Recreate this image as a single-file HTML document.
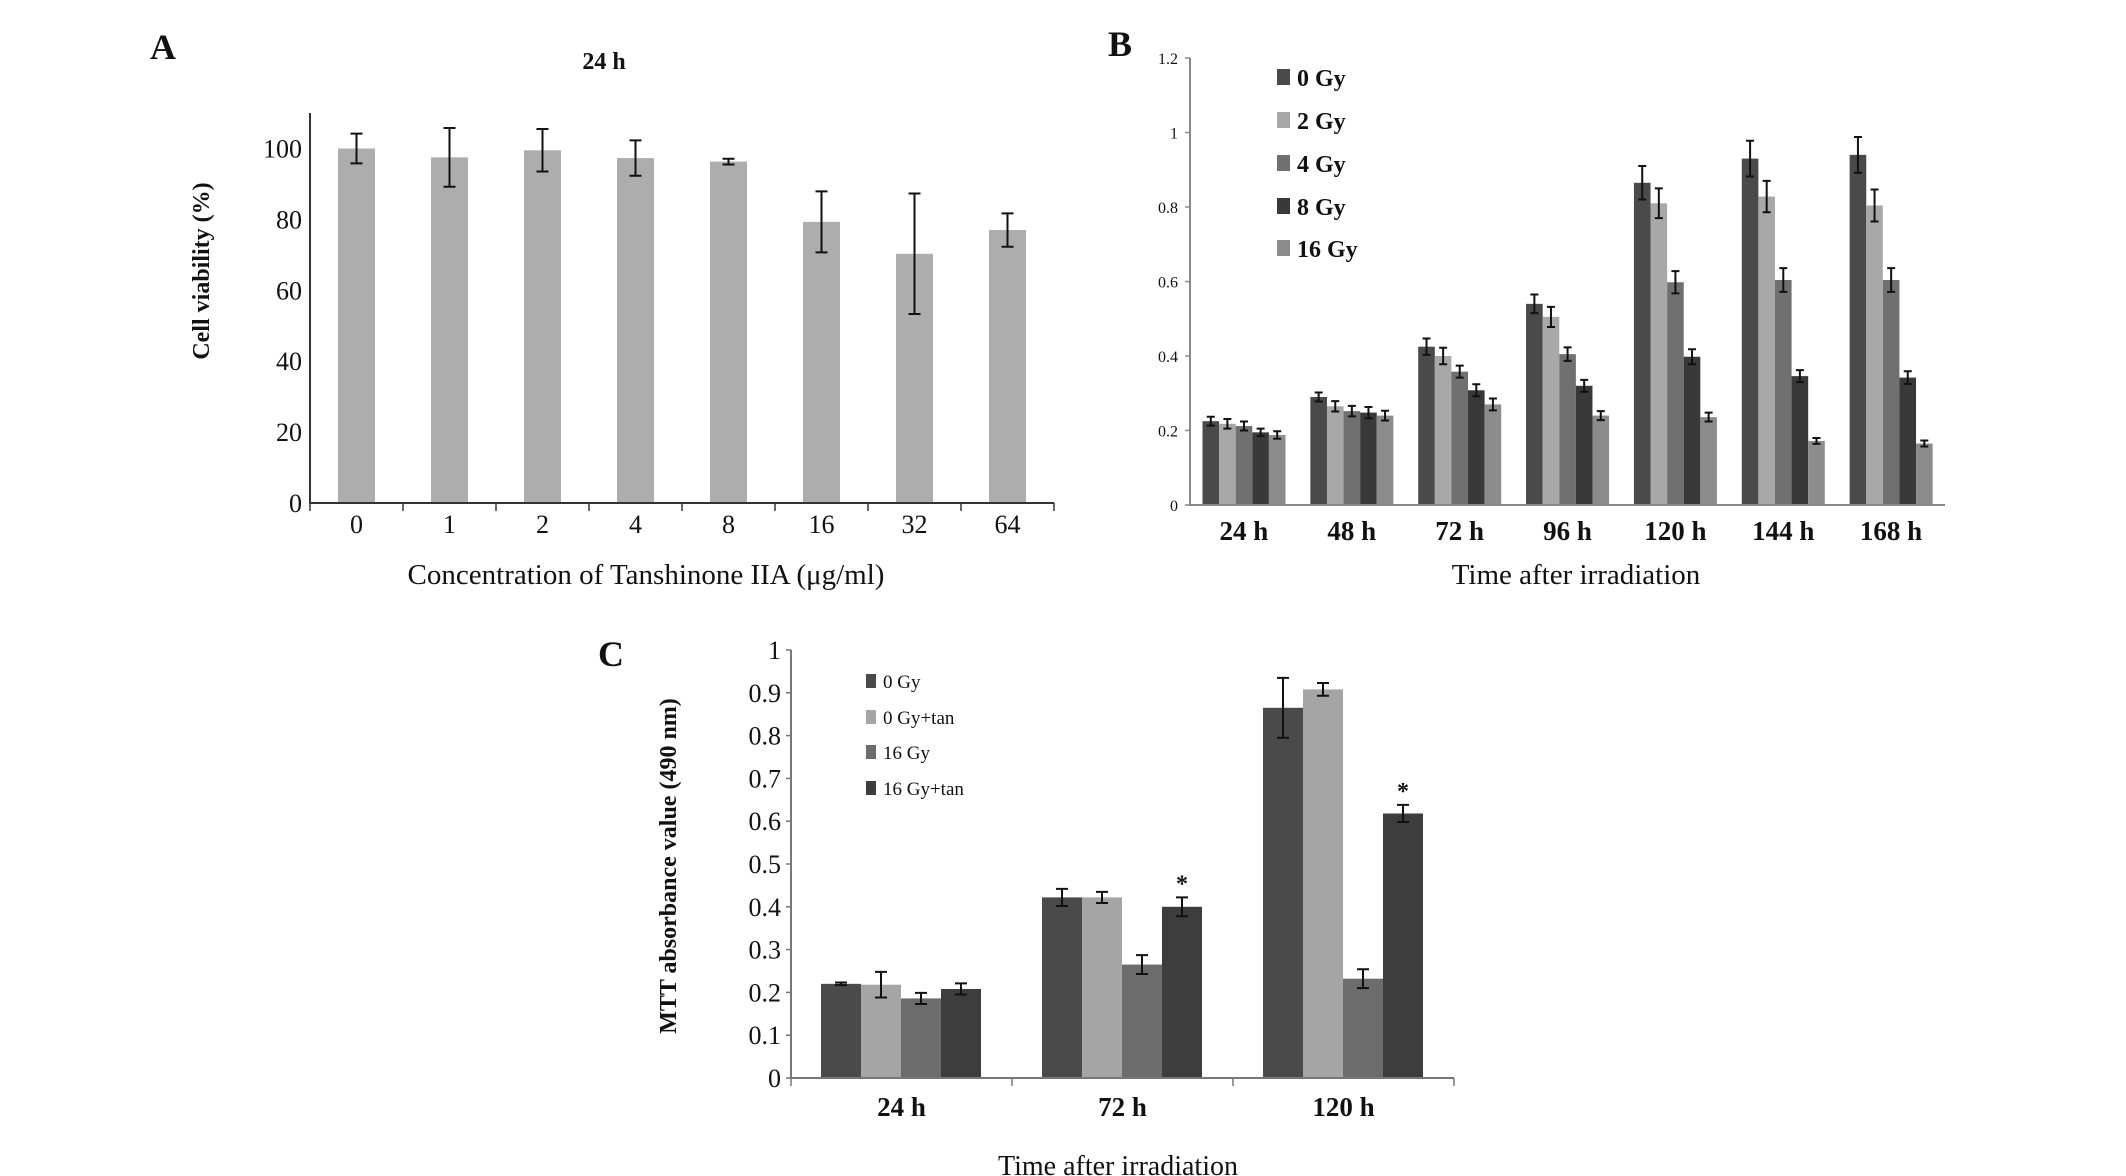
<!DOCTYPE html>
<html><head><meta charset="utf-8"><style>
html,body{margin:0;padding:0;background:#fff;overflow:hidden;}
svg{display:block;}
text{font-family:"Liberation Serif",serif;fill:#111;}
</style></head><body>
<svg id="fig" width="2126" height="1176" viewBox="0 0 2126 1176" xmlns="http://www.w3.org/2000/svg"></svg>
<script>
// Panel A data
const aCats=["0","1","2","4","8","16","32","64"];
const aVals=[100,97.5,99.5,97.3,96.3,79.3,70.3,77];
const aErr=[4.2,8.3,6,5,0.8,8.6,17,4.7];
const aTicks=[0,20,40,60,80,100];
// Panel B data
const bCats=["24 h","48 h","72 h","96 h","120 h","144 h","168 h"];
const bSeries=["0 Gy","2 Gy","4 Gy","8 Gy","16 Gy"];
const b0=[0.225,0.29,0.425,0.54,0.865,0.93,0.94];
const b2=[0.218,0.265,0.4,0.505,0.81,0.828,0.804];
const b4=[0.212,0.252,0.358,0.405,0.598,0.604,0.604];
const b8=[0.195,0.248,0.308,0.32,0.398,0.346,0.342];
const b16=[0.188,0.24,0.27,0.24,0.236,0.172,0.165];
const bE0=[0.012,0.012,0.022,0.025,0.045,0.048,0.048];
const bE2=[0.013,0.014,0.022,0.027,0.04,0.042,0.043];
const bE4=[0.012,0.014,0.016,0.018,0.03,0.032,0.032];
const bE8=[0.01,0.015,0.016,0.016,0.02,0.016,0.017];
const bE16=[0.01,0.013,0.016,0.012,0.012,0.008,0.008];
const bTicks=[0,0.2,0.4,0.6,0.8,1,1.2];
const bTickLabels=["0","0.2","0.4","0.6","0.8","1","1.2"];
// Panel C data
const cCats=["24 h","72 h","120 h"];
const cSeries=["0 Gy","0 Gy+tan","16 Gy","16 Gy+tan"];
const c0=[0.22,0.422,0.865];
const c1=[0.218,0.422,0.908];
const c2=[0.186,0.265,0.232];
const c3=[0.208,0.4,0.618];
const cE0=[0.003,0.02,0.07];
const cE1=[0.03,0.013,0.015];
const cE2=[0.013,0.022,0.022];
const cE3=[0.013,0.022,0.02];
const cStars=[[3,1],[3,2]];
const cTicks=[0,0.1,0.2,0.3,0.4,0.5,0.6,0.7,0.8,0.9,1];
const cTickLabels=["0","0.1","0.2","0.3","0.4","0.5","0.6","0.7","0.8","0.9","1"];

const NS="http://www.w3.org/2000/svg";
const svg=document.getElementById('fig');
function mk(tag,attrs,parent,txt){const e=document.createElementNS(NS,tag);for(const k in attrs)e.setAttribute(k,attrs[k]);if(txt!==undefined)e.textContent=txt;(parent||svg).appendChild(e);return e;}
function grp(name){const g=mk('g',{});


return g;}
function errBar(g,x,y1,y2,cap){
const l=mk('path',{d:`M${x},${y1}V${y2}M${x-cap},${y1}H${x+cap}M${x-cap},${y2}H${x+cap}`,stroke:'#111','stroke-width':2,fill:'none'},g);

}

// ---------- Panel A ----------
(function(){
const g=grp('panel-a');
const X0=310,X1=1054,Y0=503,Ytop=113;
const y=v=>Y0-v*3.545;
const bw=(X1-X0)/aCats.length;
let t=mk('text',{x:150,y:59,'font-size':36,'font-weight':'bold'},g,'A');

t=mk('text',{x:604,y:69,'font-size':24,'font-weight':'bold','text-anchor':'middle'},g,'24 h');

aVals.forEach((v,i)=>{const cx=X0+bw*(i+0.5);
const r=mk('rect',{x:cx-18.5,y:y(v),width:37,height:Y0-y(v),fill:'#adadad'},g);

errBar(g,cx,y(v+aErr[i]),y(v-aErr[i]),6);
const l=mk('text',{x:cx,y:533,'font-size':26,'text-anchor':'middle'},g,aCats[i]);
});
mk('path',{d:`M${X0},${Ytop}V${Y0}H${X1}`,stroke:'#333','stroke-width':2,fill:'none'},g);
for(let i=0;i<=aCats.length;i++){const x=X0+bw*i;mk('line',{x1:x,y1:Y0,x2:x,y2:Y0+8,stroke:'#333','stroke-width':1.5},g);}
aTicks.forEach(v=>{const l=mk('text',{x:302,y:y(v)+9,'font-size':26,'text-anchor':'end'},g,String(v));
});
t=mk('text',{x:0,y:0,'font-size':24,'font-weight':'bold','text-anchor':'middle',transform:'translate(209,271) rotate(-90)'},g,'Cell viability (%)');

t=mk('text',{x:646,y:584,'font-size':29,'text-anchor':'middle'},g,'Concentration of Tanshinone IIA (μg/ml)');

})();

// ---------- Panel B ----------
(function(){
const g=grp('panel-b');
const X0=1190,X1=1945,Y0=505,Ytop=58;
const y=v=>Y0-v*(Y0-Ytop)/1.2;
const gw=(X1-X0)/bCats.length;
const cols=['#4a4a4a','#a8a8a8','#707070','#393939','#8c8c8c'];
const vals=[b0,b2,b4,b8,b16],errs=[bE0,bE2,bE4,bE8,bE16];
let t=mk('text',{x:1108,y:56,'font-size':36,'font-weight':'bold'},g,'B');

const bw=16.6;
bCats.forEach((c,i)=>{const gx=X0+gw*i+12.5;
vals.forEach((s,j)=>{const x=gx+bw*j;const v=s[i];
const r=mk('rect',{x:x,y:y(v),width:bw,height:Y0-y(v),fill:cols[j]},g);

errBar(g,x+bw/2,y(v+errs[j][i]),y(v-errs[j][i]),4);});
const l=mk('text',{x:X0+gw*(i+0.5),y:540,'font-size':27,'font-weight':'bold','text-anchor':'middle'},g,c);
});
mk('path',{d:`M${X0},${Ytop}V${Y0}H${X1}`,stroke:'#888','stroke-width':2,fill:'none'},g);
bTicks.forEach((v,i)=>{mk('line',{x1:X0-5,y1:y(v),x2:X0,y2:y(v),stroke:'#888','stroke-width':1.5},g);
const l=mk('text',{x:X0-12,y:y(v)+6,'font-size':16,'text-anchor':'end','font-family':'"Liberation Mono",monospace'},g,bTickLabels[i]);
});
const ly=[77,120,163,206,248];
bSeries.forEach((s,j)=>{const lg=grp('legend-entry');g.appendChild(lg);
mk('rect',{x:1277,y:ly[j]-8,width:13,height:16,fill:cols[j]},lg);
mk('text',{x:1297,y:ly[j]+9,'font-size':24,'font-weight':'bold'},lg,s);});
t=mk('text',{x:1576,y:584,'font-size':29,'text-anchor':'middle'},g,'Time after irradiation');

})();

// ---------- Panel C ----------
(function(){
const g=grp('panel-c');
const X0=791,X1=1454,Y0=1078,Ytop=650;
const y=v=>Y0-v*(Y0-Ytop);
const gw=(X1-X0)/cCats.length;
const cols=['#4a4a4a','#a5a5a5','#6c6c6c','#3d3d3d'];
const vals=[c0,c1,c2,c3],errs=[cE0,cE1,cE2,cE3];
let t=mk('text',{x:598,y:666,'font-size':36,'font-weight':'bold'},g,'C');

const bw=40;
cCats.forEach((c,i)=>{const gx=X0+gw*i+30;
vals.forEach((s,j)=>{const x=gx+bw*j;const v=s[i];
const r=mk('rect',{x:x,y:y(v),width:bw,height:Y0-y(v),fill:cols[j]},g);

errBar(g,x+bw/2,y(v+errs[j][i]),y(v-errs[j][i]),6);});
const l=mk('text',{x:X0+gw*(i+0.5),y:1116,'font-size':27,'font-weight':'bold','text-anchor':'middle'},g,c);
});
cStars.forEach(([j,i])=>{const x=X0+gw*i+30+bw*j+bw/2;const v=vals[j][i]+errs[j][i];
const s=mk('text',{x:x,y:y(v)-6,'font-size':24,'font-weight':'bold','text-anchor':'middle'},g,'*');
});
mk('path',{d:`M${X0},${Ytop}V${Y0}H${X1}`,stroke:'#777','stroke-width':2,fill:'none'},g);
for(let i=0;i<=cCats.length;i++){const x=X0+gw*i;mk('line',{x1:x,y1:Y0,x2:x,y2:Y0+8,stroke:'#777','stroke-width':1.5},g);}
cTicks.forEach((v,i)=>{mk('line',{x1:X0-5,y1:y(v),x2:X0,y2:y(v),stroke:'#777','stroke-width':1.5},g);
const l=mk('text',{x:781,y:y(v)+9,'font-size':26,'text-anchor':'end','font-family':'"Liberation Mono",monospace'},g,cTickLabels[i]);
});
const ly=[681,717,752,788];
cSeries.forEach((s,j)=>{const lg=grp('legend-entry');g.appendChild(lg);
mk('rect',{x:866,y:ly[j]-7,width:10,height:14,fill:cols[j]},lg);
mk('text',{x:883,y:ly[j]+7,'font-size':19,'font-family':'"Liberation Mono",monospace'},lg,s);});
t=mk('text',{x:0,y:0,'font-size':24,'font-weight':'bold','text-anchor':'middle',transform:'translate(676,866) rotate(-90)'},g,'MTT absorbance value (490 nm)');

t=mk('text',{x:1118,y:1175,'font-size':28,'text-anchor':'middle'},g,'Time after irradiation');

})();
</script>
</body></html>
